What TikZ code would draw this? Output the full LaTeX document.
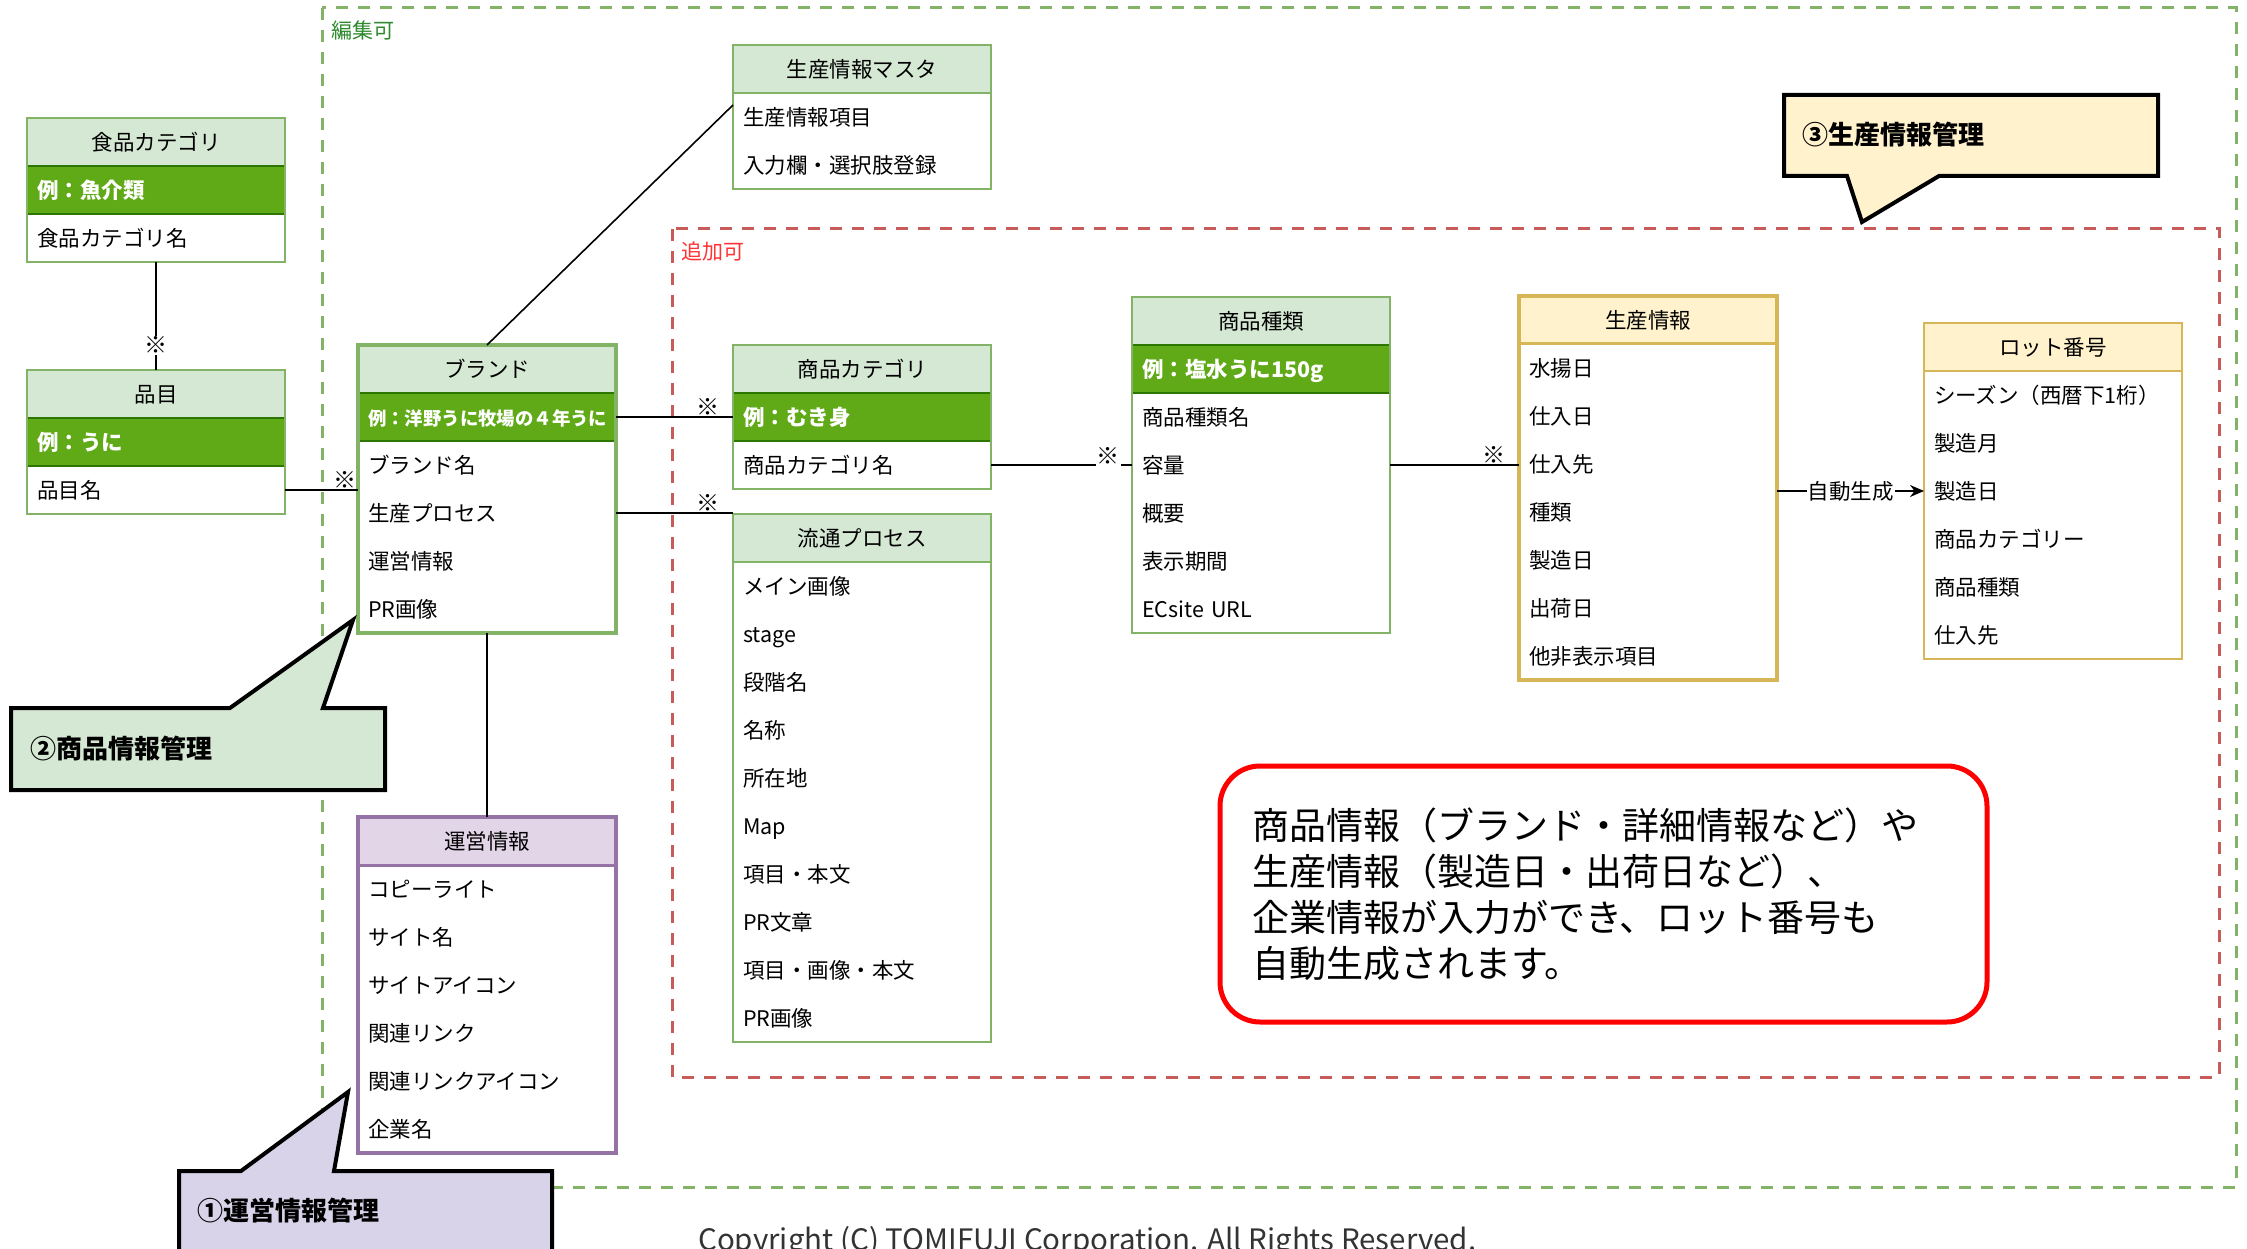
\documentclass[tikz,border=0pt]{standalone}
\usepackage{fontspec}
\setmainfont{Noto Sans CJK JP}
\usetikzlibrary{calc,arrows.meta}
\definecolor{gfill}{HTML}{D5E8D4}
\definecolor{gline}{HTML}{82B366}
\definecolor{exfill}{HTML}{60A917}
\definecolor{exline}{HTML}{2D7600}
\definecolor{pfill}{HTML}{E1D5E7}
\definecolor{pline}{HTML}{9673A6}
\definecolor{yfill}{HTML}{FFF2CC}
\definecolor{yline}{HTML}{D6B656}
\definecolor{rdash}{HTML}{C65B57}
\definecolor{lbgreen}{HTML}{2D8A2D}
\definecolor{lbred}{HTML}{FF3333}
\definecolor{cpurple}{HTML}{D9D3EA}
\newcommand\fsz[2]{\fontsize{#1}{#2}\selectfont}
\newcommand\itemrows[4]{% name, x, top y, list
  \foreach \t [count=\i] in {#4} {\node[item] (#1-\i) at (#2,{#3+48*(\i-1)}) {\t};}}
\begin{document}
\begin{tikzpicture}[x=1pt,y=-1pt,
  cell/.style={anchor=north west, minimum width=258pt, minimum height=48pt, inner sep=0pt, outer sep=0pt, text height=19pt, text depth=2.6pt, font=\fsz{21.5}{26}},
  hdrG/.style={cell, draw=gline, fill=gfill, line width=1.5pt},
  hdrP/.style={cell, draw=pline, fill=pfill, line width=3pt},
  hdrY/.style={cell, draw=yline, fill=yfill, line width=1.5pt},
  hdrYt/.style={cell, draw=yline, fill=yfill, line width=3pt},
  item/.style={cell, text width=238pt, inner xsep=10pt, align=left},
  exrow/.style={item, draw=exline, fill=exfill, text=white, line width=1.2pt, font=\fsz{21.5}{26}\bfseries},
  conn/.style={draw=black, line width=1.6pt},
  mult/.style={font=\fsz{23}{26}\bfseries, inner sep=1pt},
  callout/.style={draw=black, line width=4pt, line join=miter},
  calltext/.style={font=\fsz{26}{30}\bfseries, anchor=west, inner sep=0pt},
  zone/.style={line width=3pt, dash pattern=on 12pt off 10pt},
]
\useasboundingbox (0,0) rectangle (2247,1249);
\fill[white] (0,0) rectangle (2247,1249);

% zones
\draw[zone, draw=gline] (322,8) rectangle (2236,1187);
\node[anchor=west, text=lbgreen, font=\fsz{21}{25}, inner sep=0pt] (zedit) at (331,31) {編集可};
\draw[zone, draw=rdash] (672,229) rectangle (2219,1077);
\node[anchor=west, text=lbred, font=\fsz{21}{25}, inner sep=0pt] (zadd) at (681,252) {追加可};

% 食品カテゴリ
\node[hdrG] (cat) at (27,118) {食品カテゴリ};
\node[exrow] (cat-e) at (27,166) {例：魚介類};
\itemrows{cat}{27}{214}{食品カテゴリ名}
\draw[draw=gline, line width=1.5pt] (cat.north west) rectangle (cat-1.south east);

% 品目
\node[hdrG] (hin) at (27,370) {品目};
\node[exrow] (hin-e) at (27,418) {例：うに};
\itemrows{hin}{27}{466}{品目名}
\draw[draw=gline, line width=1.5pt] (hin.north west) rectangle (hin-1.south east);

% ブランド
\node[hdrG] (br) at (358,345) {ブランド};
\node[exrow, font=\fsz{18.4}{22}\bfseries] (br-e) at (358,393) {例：洋野うに牧場の４年うに};
\itemrows{br}{358}{441}{ブランド名,生産プロセス,運営情報,PR画像}
\draw[draw=gline, line width=4pt] (br.north west) rectangle (br-4.south east);

% 生産情報マスタ
\node[hdrG] (masta) at (733,45) {生産情報マスタ};
\itemrows{masta}{733}{93}{生産情報項目,入力欄・選択肢登録}
\draw[draw=gline, line width=1.5pt] (masta.north west) rectangle (masta-2.south east);

% 商品カテゴリ
\node[hdrG] (shcat) at (733,345) {商品カテゴリ};
\node[exrow] (shcat-e) at (733,393) {例：むき身};
\itemrows{shcat}{733}{441}{商品カテゴリ名}
\draw[draw=gline, line width=1.5pt] (shcat.north west) rectangle (shcat-1.south east);

% 流通プロセス
\node[hdrG] (ryu) at (733,514) {流通プロセス};
\itemrows{ryu}{733}{562}{メイン画像,stage,段階名,名称,所在地,Map,項目・本文,PR文章,項目・画像・本文,PR画像}
\draw[draw=gline, line width=1.5pt] (ryu.north west) rectangle (ryu-10.south east);

% 運営情報
\node[hdrP] (unei) at (358,817) {運営情報};
\itemrows{unei}{358}{865}{コピーライト,サイト名,サイトアイコン,関連リンク,関連リンクアイコン,企業名}
\draw[draw=pline, line width=4pt] (unei.north west) rectangle (unei-6.south east);

% 商品種類
\node[hdrG] (shu) at (1132,297) {商品種類};
\node[exrow] (shu-e) at (1132,345) {例：塩水うに150g};
\itemrows{shu}{1132}{393}{商品種類名,容量,概要,表示期間,ECsite URL}
\draw[draw=gline, line width=1.5pt] (shu.north west) rectangle (shu-5.south east);

% 生産情報
\node[hdrYt] (sei) at (1519,296) {生産情報};
\itemrows{sei}{1519}{344}{水揚日,仕入日,仕入先,種類,製造日,出荷日,他非表示項目}
\draw[draw=yline, line width=4pt] (sei.north west) rectangle (sei-7.south east);

% ロット番号
\node[hdrY] (lot) at (1924,323) {ロット番号};
\itemrows{lot}{1924}{371}{シーズン（西暦下1桁）,製造月,製造日,商品カテゴリー,商品種類,仕入先}
\draw[draw=yline, line width=1.5pt] (lot.north west) rectangle (lot-6.south east);

% connectors
\draw[conn] (cat-1.south) -- node[mult, pos=0.77, fill=white]{※} (hin.north);
\draw[conn] (hin-1.east) -- (hin-1.east -| br.west) node[mult, pos=1, anchor=south east]{※};
\draw[conn] (br-e.east) -- (shcat-e.west) node[mult, pos=1, anchor=south east, xshift=-12pt]{※};
\draw[conn] (br-2.east) -- (br-2.east -| ryu.west) node[mult, pos=1, anchor=south east, xshift=-12pt]{※};
\coordinate (mastaend) at ($(masta-1.north west)+(0,12)$);
\draw[conn] (br.north) -- (mastaend);
\draw[conn] (br-4.south) -- (unei.north);
\draw[conn] (shcat-1.east) -- (shu-2.west) node[mult, pos=1, fill=white, xshift=-24pt, yshift=9pt]{※};
\draw[conn] (shu-2.east) -- (shu-2.east -| sei.west) node[mult, pos=1, anchor=south east, xshift=-12pt]{※};
\draw[conn, -{Stealth[length=14pt,width=12pt]}] (lot-3.west -| sei.east) -- node[fill=white, font=\fsz{21.5}{26}, inner sep=1pt]{自動生成} (lot-3.west);

% callouts
\draw[callout, fill=yfill] (1784,95) -- (2158,95) -- (2158,176) -- (1939,176) -- (1862,222) -- (1847,176) -- (1784,176) -- cycle;
\node[calltext] (c3) at (1802,135) {③生産情報管理};
\draw[callout, fill=gfill] (11,708) -- (230,708) -- (353,620) -- (323,708) -- (385,708) -- (385,790) -- (11,790) -- cycle;
\node[calltext] (c2) at (30,749) {②商品情報管理};
\draw[callout, fill=cpurple] (179,1171) -- (241,1171) -- (348,1092) -- (334,1171) -- (552,1171) -- (552,1280) -- (179,1280) -- cycle;
\node[calltext] (c1) at (197,1211) {①運営情報管理};

% note
\node[draw=red, line width=5pt, rounded corners=40pt, minimum width=767pt, minimum height=256pt, text width=703pt, inner xsep=32pt, align=left, font=\fsz{37}{46}] (note) at (1603.5,894) {商品情報（ブランド・詳細情報など）や\\生産情報（製造日・出荷日など）、\\企業情報が入力ができ、ロット番号も\\自動生成されます。};

% copyright
\node[anchor=base west, font=\fsz{29.5}{34}, text=black!80, inner sep=0pt] (copy) at (698,1250) {Copyright (C) TOMIFUJI Corporation. All Rights Reserved.};
\end{tikzpicture}
\end{document}
